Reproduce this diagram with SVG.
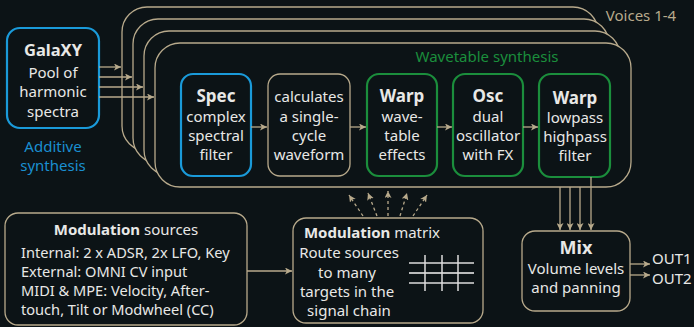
<svg xmlns="http://www.w3.org/2000/svg" width="694" height="327" viewBox="0 0 694 327">
<defs>
<marker id="ah" viewBox="0 0 8 8" refX="8" refY="4" markerWidth="7" markerHeight="7" markerUnits="userSpaceOnUse" orient="auto">
<path d="M0,0 L8,4 L0,8 L2,4 Z" fill="#b8aa8c"/>
</marker>
</defs>
<style>
text{font-family:"Noto Sans","Open Sans",sans-serif;font-size:15px;fill:#e8e8e6;text-anchor:middle}
.b{font-weight:bold;font-size:17px}
.s{font-size:14.6px;text-anchor:start}
.stack{fill:#0c1316;stroke:#b8aa8c;stroke-width:1.3}
.blue{fill:#0c1316;stroke:#1a9ad9;stroke-width:2.2}
.green{fill:#0c1316;stroke:#1b8e3c;stroke-width:2.2}
.beige{fill:#0c1316;stroke:#b8aa8c;stroke-width:1.3}
.c{stroke:#b8aa8c;stroke-width:1.3;fill:none;marker-end:url(#ah)}
.d{stroke:#b8aa8c;stroke-width:1.3;fill:none;stroke-dasharray:3 3;marker-end:url(#ah)}
.grid{stroke:#dcdcdc;stroke-width:1.5}
</style>
<rect width="694" height="327" fill="#0c1316"/>

<g id="voices">
<rect class="stack" x="122" y="7" width="476" height="144" rx="25"/>
<rect class="stack" x="133" y="19" width="476" height="144" rx="25"/>
<rect class="stack" x="144" y="31" width="476" height="144" rx="25"/>
<rect class="stack" x="155" y="43" width="476" height="144" rx="25"/>
<text x="641" y="21" style="fill:#b8aa8c">Voices 1-4</text>
<text x="487" y="62" style="fill:#1b8e3c">Wavetable synthesis</text>
</g>

<g id="galaxy">
<rect class="blue" x="7" y="28" width="92" height="100" rx="13"/>
<text class="b" x="53" y="56" style="font-size:16.5px">GalaXY</text>
<text x="53" y="78">Pool of</text>
<text x="53" y="97">harmonic</text>
<text x="53" y="117">spectra</text>
<text x="53" y="152" style="fill:#1a8fd0">Additive</text>
<text x="53" y="171" style="fill:#1a8fd0">synthesis</text>
</g>

<g id="spec">
<rect class="blue" x="181" y="74" width="70" height="102" rx="12"/>
<text class="b" x="216" y="102">Spec</text>
<text x="216" y="122">complex</text>
<text x="216" y="141">spectral</text>
<text x="216" y="160">filter</text>
</g>

<g id="calc">
<rect class="beige" x="268" y="74" width="82" height="102" rx="12"/>
<text x="309" y="102">calculates</text>
<text x="309" y="122">a single-</text>
<text x="309" y="141">cycle</text>
<text x="309" y="160">waveform</text>
</g>

<g id="warp1">
<rect class="green" x="367" y="74" width="70" height="102" rx="12"/>
<text class="b" x="402" y="102">Warp</text>
<text x="402" y="122">wave-</text>
<text x="402" y="141">table</text>
<text x="402" y="160">effects</text>
</g>

<g id="osc">
<rect class="green" x="453" y="74" width="70" height="102" rx="12"/>
<text class="b" x="488" y="102">Osc</text>
<text x="488" y="122">dual</text>
<text x="488" y="141">oscillator</text>
<text x="488" y="160">with FX</text>
</g>

<g id="warp2">
<rect class="green" x="539" y="74" width="71" height="103" rx="12"/>
<text class="b" x="575" y="104">Warp</text>
<text x="575" y="123">lowpass</text>
<text x="575" y="142">highpass</text>
<text x="575" y="161">filter</text>
</g>

<g id="modsources">
<rect class="beige" x="5" y="213" width="242" height="112" rx="13"/>
<text x="126" y="235"><tspan font-weight="bold">Modulation</tspan> sources</text>
<text class="s" x="21" y="258">Internal: 2 x ADSR, 2x LFO, Key</text>
<text class="s" x="21" y="277">External: OMNI CV input</text>
<text class="s" x="21" y="296">MIDI &amp; MPE: Velocity, After-</text>
<text class="s" x="21" y="315">touch, Tilt or Modwheel (CC)</text>
</g>

<g id="matrix">
<rect class="beige" x="293" y="218" width="190" height="105" rx="13"/>
<text x="372" y="238"><tspan font-weight="bold">Modulation</tspan> matrix</text>
<text x="349" y="258">Route sources</text>
<text x="347" y="278">to many</text>
<text x="347" y="297">targets in the</text>
<text x="349" y="316">signal chain</text>
<g class="grid">
<line x1="409" y1="263" x2="474" y2="263"/>
<line x1="409" y1="273" x2="474" y2="273" style="stroke:#f4f4f4"/>
<line x1="409" y1="283" x2="474" y2="283"/>
<line x1="425" y1="255" x2="425" y2="291"/>
<line x1="442" y1="255" x2="442" y2="291"/>
<line x1="458" y1="255" x2="458" y2="291"/>
</g>
</g>

<g id="mix">
<rect class="beige" x="522" y="231" width="108" height="80" rx="13"/>
<text class="b" x="576" y="254" style="font-size:18px">Mix</text>
<text x="576" y="274">Volume levels</text>
<text x="576" y="293">and panning</text>
<text x="652" y="264" style="text-anchor:start">OUT1</text>
<text x="652" y="284" style="text-anchor:start">OUT2</text>
</g>

<g id="connectors">
<line class="c" x1="99" y1="67" x2="121" y2="67"/>
<line class="c" x1="99" y1="77" x2="132" y2="77"/>
<line class="c" x1="99" y1="87" x2="143" y2="87"/>
<line class="c" x1="99" y1="97" x2="154" y2="97"/>
<line class="c" x1="251" y1="127" x2="267" y2="127"/>
<line class="c" x1="350" y1="127" x2="366" y2="127"/>
<line class="c" x1="437" y1="127" x2="452" y2="127"/>
<line class="c" x1="523" y1="127" x2="538" y2="127"/>
<line class="c" x1="560" y1="187" x2="560" y2="230"/>
<line class="c" x1="570" y1="187" x2="570" y2="230"/>
<line class="c" x1="580" y1="187" x2="580" y2="230"/>
<line class="c" x1="591" y1="177" x2="591" y2="230"/>
<line class="c" x1="247" y1="271" x2="292" y2="271"/>
<line class="c" x1="630" y1="264" x2="650" y2="264"/>
<line class="c" x1="630" y1="275" x2="650" y2="275"/>
<line class="d" x1="363" y1="216" x2="349" y2="195"/>
<line class="d" x1="377" y1="216" x2="368" y2="193"/>
<line class="d" x1="388" y1="216" x2="388" y2="191"/>
<line class="d" x1="400" y1="216" x2="407" y2="193"/>
<line class="d" x1="413" y1="216" x2="427" y2="195"/>
</g>
</svg>
